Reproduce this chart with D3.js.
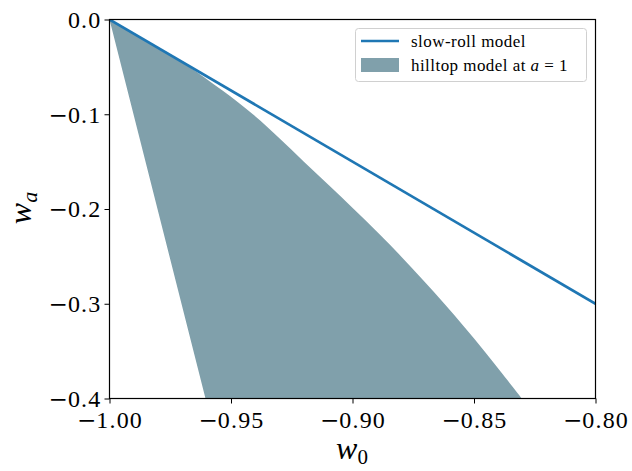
<!DOCTYPE html>
<html><head><meta charset="utf-8">
<script src="https://cdn.jsdelivr.net/npm/d3@7"></script>
<style>body{margin:0;background:#fff}svg{display:block}</style>
</head><body><svg id="c" width="632" height="471"></svg>
<script>
// data
const slowRollW0 = [-1.0, -0.8];
const slowRollWa = [0.0, -0.3];
const hilltopLeftW0 = [-1.0, -0.9605];
const hilltopLeftWa = [0.0, -0.4];
const hilltopRightWa = [0.0, -0.025, -0.05, -0.075, -0.10, -0.125, -0.15, -0.175, -0.20, -0.225, -0.25, -0.275, -0.30, -0.325, -0.35, -0.375, -0.40];
const hilltopRightW0 = [-1.0, -0.9833, -0.9672, -0.9535, -0.9410, -0.9302, -0.9200, -0.9097, -0.8995, -0.8895, -0.8800, -0.8710, -0.8622, -0.8538, -0.8457, -0.8380, -0.8303];
const xTicks = [-1.00, -0.95, -0.90, -0.85, -0.80];
const yTicks = [0.0, -0.1, -0.2, -0.3, -0.4];
const legendLabels = ["slow-roll model", "hilltop model at "];

const svg = d3.select("#c");
const L = 109.5, R = 595.5, T = 19.5, B = 398.5;
const x = d3.scaleLinear().domain([-1.0, -0.8]).range([L, R]);
const y = d3.scaleLinear().domain([-0.4, 0.0]).range([B, T]);
const lineColor = "#1f77b4", fillColor = "#80a0ab";
const font = "'Liberation Serif', 'DejaVu Serif', serif";

const clip = svg.append("clipPath").attr("id", "pc");
clip.append("rect").attr("x", L).attr("y", T).attr("width", R - L).attr("height", B - T);

// hilltop polygon: left straight edge, bottom, smooth right edge back to the top
const leftPts = hilltopLeftW0.map((w, i) => [x(w), y(hilltopLeftWa[i])]);
const rightPts = hilltopRightW0.map((w, i) => [x(w), y(hilltopRightWa[i])]).reverse();
const rightPath = d3.line().curve(d3.curveCatmullRom.alpha(0.5))(rightPts).replace(/^M/, "L");
const polyPath = "M" + leftPts.map(p => p.join(",")).join("L") + rightPath + "Z";
svg.append("path").attr("d", polyPath)
  .attr("fill", fillColor).attr("stroke", "none").attr("clip-path", "url(#pc)");

// slow-roll line
svg.append("path")
  .attr("d", d3.line().x((d, i) => x(slowRollW0[i])).y((d, i) => y(slowRollWa[i]))(slowRollW0))
  .attr("fill", "none").attr("stroke", lineColor).attr("stroke-width", 2.7).attr("clip-path", "url(#pc)");

// axes
const fmtX = d => d3.format(".2f")(d);
const fmtY = d => d3.format(".1f")(d);
const xa = svg.append("g").attr("transform", `translate(0,${B})`)
  .call(d3.axisBottom(x).tickValues(xTicks).tickFormat(fmtX).tickSize(5).tickSizeOuter(0));
const ya = svg.append("g").attr("transform", `translate(${L},0)`)
  .call(d3.axisLeft(y).tickValues(yTicks).tickFormat(fmtY).tickSize(5).tickSizeOuter(0));
[xa, ya].forEach(g => {
  g.select(".domain").remove();
  g.selectAll("line").attr("stroke", "#000").attr("stroke-width", 1);
  g.selectAll("text").each(function () {
    const t = d3.select(this);
    const s = t.text().replace("\u2212", "-");
    t.text("").attr("font-family", font).attr("font-size", 24).attr("fill", "#000");
    if (s.startsWith("-")) {
      t.append("tspan").attr("font-family", "'DejaVu Serif', serif").attr("font-size", 23).text("\u2212");
      t.append("tspan").attr("letter-spacing", 1.2).text(s.slice(1));
    } else {
      t.append("tspan").attr("letter-spacing", 1.2).text(s);
    }
  });
});
xa.selectAll("text").attr("dy", 0).attr("y", 29);
ya.selectAll("text").attr("x", -8).attr("dy", "0.33em");

// frame
svg.append("rect").attr("x", L).attr("y", T).attr("width", R - L).attr("height", B - T)
  .attr("fill", "none").attr("stroke", "#000").attr("stroke-width", 1.2);

// axis labels
const xl = svg.append("text").attr("x", 352).attr("y", 459).attr("text-anchor", "middle")
  .attr("font-family", font).attr("font-size", 32).attr("font-style", "italic");
xl.append("tspan").text("w");
xl.append("tspan").attr("font-size", 21).attr("font-style", "normal").attr("dy", 5).text("0");
const yl = svg.append("text").attr("transform", "translate(31,208) rotate(-90)").attr("text-anchor", "middle")
  .attr("font-family", font).attr("font-size", 32).attr("font-style", "italic");
yl.append("tspan").text("w");
yl.append("tspan").attr("font-size", 22).attr("dy", 6).text("a");

// legend
const lg = svg.append("g");
lg.append("rect").attr("x", 355.5).attr("y", 28.5).attr("width", 231).attr("height", 53).attr("rx", 3)
  .attr("fill", "#fff").attr("fill-opacity", 0.8).attr("stroke", "#d0d0d0").attr("stroke-width", 1);
lg.append("line").attr("x1", 361).attr("x2", 399).attr("y1", 41).attr("y2", 41)
  .attr("stroke", lineColor).attr("stroke-width", 2.7);
lg.append("rect").attr("x", 361).attr("y", 58).attr("width", 38).attr("height", 14).attr("fill", fillColor);
lg.append("text").attr("x", 411).attr("y", 47).attr("font-family", font).attr("font-size", 17)
  .attr("letter-spacing", 0.45).text(legendLabels[0]);
const t2 = lg.append("text").attr("x", 411).attr("y", 71).attr("font-family", font).attr("font-size", 17)
  .attr("letter-spacing", 0.45);
t2.append("tspan").text(legendLabels[1]);
t2.append("tspan").attr("font-style", "italic").text("a");
t2.append("tspan").text(" = 1");
</script></body></html>
